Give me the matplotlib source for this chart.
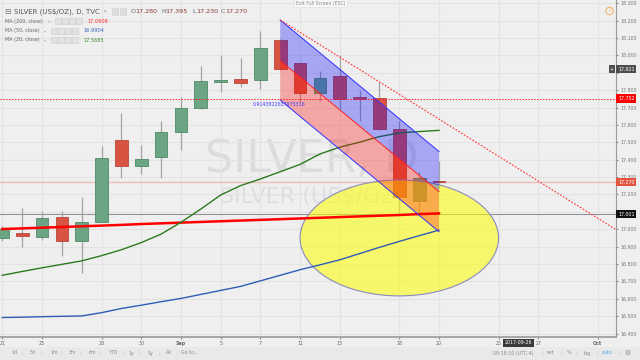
import matplotlib
matplotlib.use("Agg")
import numpy as np
import matplotlib.pyplot as plt
import matplotlib.transforms as mtransforms
from matplotlib.patches import Rectangle, Polygon, Ellipse

# daily bars, Aug 21 .. Sep 20 2017 (bar index 0..22)
opens  = [16.95, 16.98, 16.955, 17.07, 16.93, 17.04, 17.516, 17.362, 17.418, 17.562, 17.695, 17.849,
          17.863, 17.859, 18.089, 17.956, 17.783, 17.88, 17.76, 17.755, 17.574, 17.16, 17.280]
highs  = [17.02, 17.12, 17.105, 17.103, 17.187, 17.48, 17.67, 17.485, 17.62, 17.76, 17.94, 18.003,
          17.987, 18.141, 18.095, 17.96, 17.908, 18.0, 17.80, 17.85, 17.625, 17.33, 17.395]
lows   = [16.93, 16.895, 16.936, 16.844, 16.746, 17.04, 17.295, 17.32, 17.293, 17.456, 17.69, 17.792,
          17.82, 17.806, 17.915, 17.73, 17.735, 17.693, 17.625, 17.57, 17.078, 17.10, 17.230]
closes = [17.00, 16.96, 17.063, 16.93, 17.04, 17.41, 17.362, 17.405, 17.562, 17.70, 17.853, 17.859,
          17.843, 18.041, 17.921, 17.783, 17.87, 17.75, 17.75, 17.574, 17.184, 17.293, 17.270]

# moving averages
ma200 = [17.001, 17.005, 17.009, 17.013, 17.017, 17.021, 17.025, 17.030, 17.034, 17.038, 17.042, 17.046,
         17.050, 17.054, 17.058, 17.062, 17.066, 17.070, 17.074, 17.078, 17.082, 17.087, 17.091]
ma50 = [16.492, 16.494, 16.497, 16.499, 16.501, 16.520, 16.544, 16.563, 16.583, 16.602, 16.625, 16.648,
        16.671, 16.703, 16.735, 16.767, 16.795, 16.824, 16.860, 16.896, 16.930, 16.963, 16.995]
ma20 = [16.735, 16.757, 16.778, 16.798, 16.818, 16.848, 16.882, 16.923, 16.972, 17.040, 17.116, 17.197,
        17.251, 17.289, 17.331, 17.373, 17.433, 17.472, 17.501, 17.533, 17.554, 17.562, 17.569]

tick_pos = [0, 2, 5, 7, 9, 11, 13, 15, 17, 20, 22, 25, 27, 30]
tick_lab = ["21", "23", "28", "30", "Sep", "5", "7", "11", "13", "18", "20", "25", "27", "Oct"]

# drawings
chan_x = [14, 22]
chan_top = [18.204, 17.447]
chan_mid = [17.970, 17.216]
chan_bot = [17.744, 16.986]
trend_x = [14, 31]
trend_y = [18.204, 16.992]
red_level = 17.752
last_price = 17.270
grey_level = 17.087
cross_price = 17.921
ell_center = (20.0, 16.95)
ell_w, ell_h = 10.0, 0.667

W, H = 640, 360
def fx(x): return x / W
def fy(y): return 1 - y / H

bg = "#efefef"
fig = plt.figure(figsize=(6.4, 3.6), dpi=100, facecolor=bg)
ax = fig.add_axes([0, 1 - 337 / H, 616 / W, 337 / H], facecolor=bg)
ax.set_xlim(-0.116, 30.917)
ax.set_ylim(16.380, 18.319)

# grid + axes
yt = np.round(np.arange(16.4, 18.31, 0.1), 1)
ax.set_yticks(yt)
# 17.100 and 17.900 sit under the price boxes
ax.set_yticklabels(["" if v in (17.1, 17.9) else "%.3f" % v for v in yt])
ax.set_xticks(tick_pos)
ax.set_xticklabels(tick_lab)
ax.grid(True, color="#e3e3e3", lw=0.8, zorder=0)
ax.set_axisbelow(True)
ax.yaxis.tick_right()
ax.tick_params(axis="y", labelsize=3.4, colors="#888888", labelcolor="#777777", length=1.5, pad=1.5)
ax.tick_params(axis="x", labelsize=3.4, colors="#888888", labelcolor="#666666", length=1.5, pad=1.5)
for lab in ax.get_xticklabels():
    if lab.get_text() in ("Sep", "Oct"):
        lab.set_fontweight("bold")
for s in ["top", "left"]:
    ax.spines[s].set_visible(False)
ax.spines["right"].set_color("#9a9a9a")
ax.spines["bottom"].set_color("#a0a0a0")
ax.spines["bottom"].set_linewidth(1.3)

# watermark
ax.text(15.6, 17.331, "SILVER, D", ha="center", va="baseline", fontsize=32, color="#dcdcdc", zorder=0.5)
ax.text(15.6, 17.151, "SILVER (US$/OZ)", ha="center", va="baseline", fontsize=16, color="#dedede", zorder=0.5)

# horizontal levels
ax.axhline(last_price, color="#ecbcbc", lw=1.0, zorder=1)
ax.axhline(grey_level, color="#8c8c8c", lw=0.7, zorder=1)
ax.axhline(red_level, color="#ff2020", lw=0.7, ls=(0, (1.5, 1.5)), zorder=4.5)

# candles
bw = 0.64
for i in range(len(opens)):
    up = closes[i] >= opens[i]
    fc = "#6ba583" if up else "#d75442"
    ec = "#4f8a66" if up else "#b8473a"
    ax.vlines(i, lows[i], highs[i], color="#a3a3a3", lw=0.9, zorder=1.8)
    lo = min(opens[i], closes[i])
    h = max(abs(closes[i] - opens[i]), 0.006)
    ax.add_patch(Rectangle((i - bw / 2, lo), bw, h, fc=fc, ec=ec, lw=0.6, zorder=2))

# ellipse
ax.add_patch(Ellipse(ell_center, ell_w, ell_h, fc=(1, 1, 0, 0.55), ec="#8a8ac0", lw=0.8, zorder=2.5))

# moving averages
xs = np.arange(len(ma200))
ax.plot(xs, ma200, color="#ff0000", lw=1.8, zorder=3)
ax.plot(xs, ma50, color="#2f5db5", lw=1.0, zorder=3)
ax.plot(xs, ma20, color="#2d7a1f", lw=1.0, zorder=3)

# parallel channel
blue_poly = list(zip(chan_x, chan_top)) + list(zip(chan_x[::-1], chan_mid[::-1]))
red_poly = list(zip(chan_x, chan_mid)) + list(zip(chan_x[::-1], chan_bot[::-1]))
ax.add_patch(Polygon(blue_poly, closed=True, fc=(0, 0, 1, 0.3), ec="none", zorder=4))
ax.add_patch(Polygon(red_poly, closed=True, fc=(1, 0, 0, 0.3), ec="none", zorder=4))
ax.plot(chan_x, chan_top, color="#3030ff", lw=0.7, zorder=4.2)
ax.plot(chan_x, chan_mid, color="#ff2020", lw=0.7, zorder=4.2)
ax.plot(chan_x, chan_bot, color="#3030ff", lw=0.7, zorder=4.2)
ax.text(12.6, chan_bot[0] - 0.012, "0.9143822637975316", fontsize=3.4, color="#4040ff",
        ha="left", va="top", zorder=4.3)

# trend line
ax.plot(trend_x, trend_y, color="#ff3030", lw=0.8, ls=(0, (1.5, 1.5)), zorder=4.5)

# right-axis price boxes
tr = mtransforms.blended_transform_factory(ax.transAxes, ax.transData)
def pbox(val, txt, fc, tc="white"):
    ax.text(1.0 + 2 / 616, val, txt, transform=tr, ha="left", va="center", fontsize=3.4, color=tc,
            bbox=dict(boxstyle="square,pad=0.35", fc=fc, ec="none"), zorder=10, clip_on=False)
pbox(cross_price, "17.921", "#4d4d4d")
pbox(red_level, "17.752", "#ff0000")
pbox(last_price, "17.270", "#e2543f")
pbox(grey_level, "17.001", "#111111")
ax.text(612 / 616, cross_price, "+", transform=tr, ha="center", va="center", fontsize=3.4, color="white",
        bbox=dict(boxstyle="square,pad=0.3", fc="#4d4d4d", ec="none"), zorder=10)

trx = mtransforms.blended_transform_factory(ax.transData, ax.transAxes)
ax.text(26, -6 / 337, "2017-09-26", transform=trx, ha="center", va="center", fontsize=3.4, color="white",
        bbox=dict(boxstyle="square,pad=0.3", fc="#3a3a3a", ec="none"), zorder=10, clip_on=False)

# header legend
hc = "#555555"
fig.text(fx(4), fy(11.5), "\u229f", fontsize=5.5, color="#777777", va="center")
fig.text(fx(14), fy(11.5), "SILVER (US$/OZ), D, TVC", fontsize=5, color=hc, va="center")
fig.text(fx(104), fy(11.5), "\u25be", fontsize=3.5, color="#aaaaaa", va="center")
for x0 in [112, 120]:
    fig.patches.append(Rectangle((fx(x0), fy(15)), 6 / W, 7 / H, transform=fig.transFigure,
                                 fc="#dedede", ec="#cfcfcf", lw=0.4))
ohlc_lab = ["O", "H", "L", "C"]
ohlc_val = ["17.280", "17.395", "17.230", "17.270"]
ohlc_x = [130.5, 161, 192, 221]
for lab, val, x0 in zip(ohlc_lab, ohlc_val, ohlc_x):
    fig.text(fx(x0), fy(11.5), lab, fontsize=4.6, color="#666666", va="center")
    fig.text(fx(x0 + 4.5), fy(11.5), val, fontsize=4.6, color="#8b3a34", va="center")

ma_names = ["MA (200, close)", "MA (50, close)", "MA (20, close)"]
ma_vals = ["17.0908", "16.9904", "17.5685"]
ma_cols = ["#ff2a2a", "#3a62c0", "#3a8a2a"]
ma_rows = [21.3, 30.7, 40]
ma_icon_x = [55, 51, 51]
for name, val, col, yy, ix in zip(ma_names, ma_vals, ma_cols, ma_rows, ma_icon_x):
    fig.text(fx(5), fy(yy), name, fontsize=3.5, color="#666666", va="center")
    fig.text(fx(ix - 7), fy(yy), "\u25be", fontsize=2.8, color="#aaaaaa", va="center")
    for k in range(4):
        fig.patches.append(Rectangle((fx(ix + k * 7), fy(yy + 3)), 6 / W, 6 / H, transform=fig.transFigure,
                                     fc="#e2e2e2", ec="#cccccc", lw=0.4))
    fig.text(fx(ix + 32), fy(yy), val, fontsize=3.6, color=col, va="center")

# exit full screen hint + alert icon
fig.text(fx(296), fy(3), "Exit Full Screen (ESC)", fontsize=3.3, color="#8a8a8a", va="center",
         bbox=dict(boxstyle="square,pad=0.4", fc="#f7f7f7", ec="#dddddd", lw=0.4))
fig.text(fx(609.5), fy(11), "!", fontsize=3.6, color="#f5a142", ha="center", va="center",
         bbox=dict(boxstyle="circle,pad=0.25", fc="none", ec="#f5a142", lw=0.6))

# bottom toolbar
fig.patches.append(Rectangle((0, 0), 1, fy(347), transform=fig.transFigure, fc="#e9e9ea", ec="none"))
ranges = ["1d", "5d", "1m", "3m", "6m", "YTD", "1y", "5y", "All", "Go to..."]
range_x = [11, 30, 50, 69, 89, 109, 128, 148, 166, 181]
for lab, x0 in zip(ranges, range_x):
    fig.text(fx(x0), fy(353), lab, fontsize=3.4, color="#8a8a8a", va="center")
for x0 in [21, 40, 60, 79, 99, 122, 138, 158, 176]:
    fig.text(fx(x0), fy(353), "|", fontsize=3.6, color="#cccccc", va="center")
right_items = ["09:18:10 (UTC-4)", "ext", "%", "log", "auto", "\u2699"]
right_x = [493, 547, 567, 583, 602, 624]
right_c = ["#8a8a8a", "#8a8a8a", "#8a8a8a", "#8a8a8a", "#4aa3df", "#8a8a8a"]
for lab, x0, c in zip(right_items, right_x, right_c):
    fig.text(fx(x0), fy(353), lab, fontsize=3.4 if lab != "\u2699" else 5, color=c, va="center")
for x0 in [541, 560, 575, 596, 618]:
    fig.text(fx(x0), fy(353), "|", fontsize=3.6, color="#cccccc", va="center")

fig.savefig("out.png", dpi=100, facecolor=bg)
